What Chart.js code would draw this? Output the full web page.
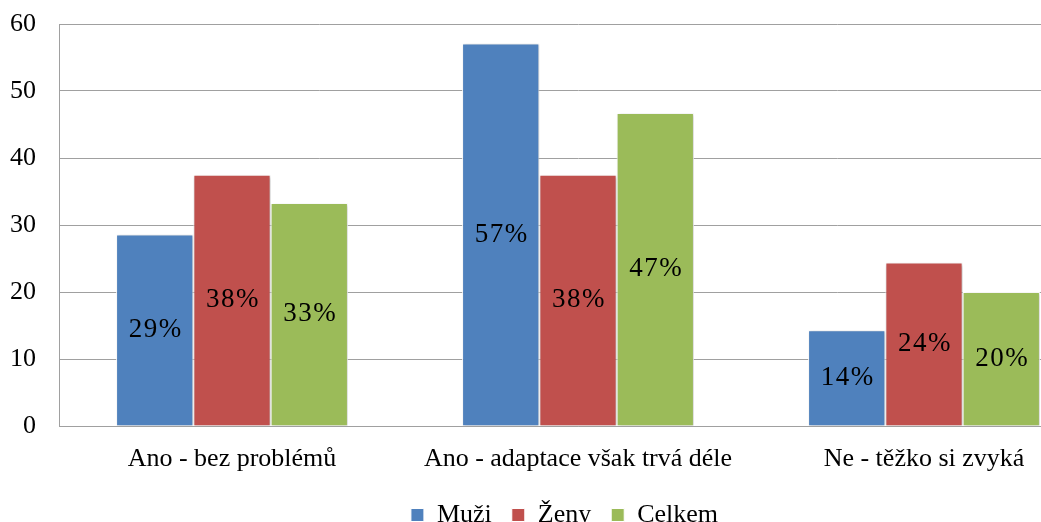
<!DOCTYPE html>
<html>
<head>
<meta charset="utf-8">
<script src="https://cdn.jsdelivr.net/npm/chart.js@4/dist/chart.umd.min.js"></script>
<style>
  html, body { margin: 0; padding: 0; background: #fff; overflow: hidden; width: 1041px; height: 522px; }
  canvas { display: block; }
</style>
</head>
<body>
<canvas id="c" width="1130" height="538"></canvas>
<script>
const categories = ['Ano - bez problémů', 'Ano - adaptace však trvá déle', 'Ne - těžko si zvyká'];
const seriesNames = ['Muži', 'Ženy', 'Celkem'];
const muzi = [28.6, 57.1, 14.3];
const zeny = [37.5, 37.5, 24.4];
const celkem = [33.3, 46.7, 20.0];
const yTicks = [0, 10, 20, 30, 40, 50, 60];
const colors = ['#4F81BD', '#C0504D', '#9BBB59'];

const FONT = "'Liberation Serif', 'Times New Roman', serif";
const GRID = '#A0A0A0';

// Percent labels in the middle of each bar
const barLabels = {
  id: 'barLabels',
  afterDatasetsDraw(chart) {
    const ctx = chart.ctx;
    ctx.save();
    ctx.font = '27px ' + FONT;
    ctx.letterSpacing = '1.5px';
    ctx.fillStyle = '#000';
    ctx.textAlign = 'center';
    ctx.textBaseline = 'middle';
    chart.data.datasets.forEach((ds, i) => {
      chart.getDatasetMeta(i).data.forEach((bar, j) => {
        ctx.fillText(Math.round(ds.data[j]) + '%', bar.x + 1, (bar.y + bar.base) / 2);
      });
    });
    ctx.restore();
  }
};

// Soft drop shadow behind the bars
const barShadow = {
  id: 'barShadow',
  beforeDatasetsDraw(chart) {
    const ctx = chart.ctx;
    ctx.save();
    ctx.shadowColor = 'rgba(0,0,0,0.25)';
    ctx.shadowBlur = 3;
    ctx.shadowOffsetX = 1;
    ctx.shadowOffsetY = 1;
  },
  afterDatasetsDraw(chart) {
    chart.ctx.restore();
  }
};

// Center the legend on the full canvas width rather than the padded area
const legendShift = {
  id: 'legendShift',
  afterLayout(chart) {
    const lg = chart.legend;
    if (!lg) return;
    const dx = 16;
    lg.left += dx;
    lg.right += dx;
  }
};

const values = [muzi, zeny, celkem];

new Chart(document.getElementById('c'), {
  type: 'bar',
  data: {
    labels: categories,
    datasets: seriesNames.map((name, i) => ({
      label: name,
      data: values[i],
      backgroundColor: colors[i],
      borderColor: '#ffffff',
      borderWidth: 1,
      categoryPercentage: 0.67,
      barPercentage: 1.0
    }))
  },
  options: {
    responsive: false,
    animation: false,
    devicePixelRatio: 1,
    layout: { padding: { left: 0, top: 24, right: 33, bottom: 0 } },
    plugins: {
      tooltip: { enabled: false },
      legend: {
        position: 'bottom',
        align: 'center',
        labels: {
          color: '#000',
          font: { family: FONT, size: 26 },
          boxWidth: 13,
          boxHeight: 13,
          padding: 20
        }
      }
    },
    scales: {
      x: {
        grid: { display: false, drawTicks: false },
        border: { color: GRID, width: 1 },
        ticks: { color: '#000', font: { family: FONT, size: 26 }, padding: 18, maxRotation: 0 },
        afterFit(scale) { scale.height = 56; }
      },
      y: {
        min: 0,
        max: 60,
        afterBuildTicks(scale) { scale.ticks = yTicks.map(v => ({ value: v })); },
        grid: { color: GRID, lineWidth: 1, drawTicks: true, tickLength: 23, tickColor: 'rgba(0,0,0,0)' },
        border: { color: GRID, width: 1 },
        ticks: { color: '#000', font: { family: FONT, size: 26 }, padding: 0 },
        afterFit(scale) { scale.width = 59; }
      }
    }
  },
  plugins: [barShadow, barLabels, legendShift]
});
</script>
</body>
</html>
